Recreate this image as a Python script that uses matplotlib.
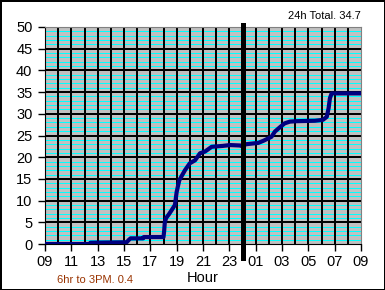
import matplotlib
matplotlib.use('Agg')
import matplotlib.pyplot as plt
import matplotlib.transforms as mtransforms

plt.rcParams['font.family'] = ['Liberation Sans', 'DejaVu Sans']

# hours since 09:00 and cumulative rainfall
hours = [0, 3.4, 3.45, 6.2, 6.35, 6.5, 7.45, 7.5, 9.0, 9.05, 9.1, 9.2, 9.4,
         9.62, 9.87, 10.0, 10.2, 10.63, 11.0, 11.4, 11.77, 12.15, 12.66, 13.5,
         14.05, 14.8, 14.9, 15.3, 16.2, 16.6, 17.2, 17.46, 17.84, 18.2, 18.6,
         19.1, 20.5, 21.1, 21.4, 21.54, 21.64, 21.77, 24]
rain = [0, 0, 0.3, 0.4, 0.9, 1.3, 1.3, 1.6, 1.6, 3.0, 5.0, 6.0, 6.8,
        7.8, 9.0, 12, 14.7, 17, 18.6, 19.3, 20.9, 21.3, 22.4, 22.6,
        22.8, 22.7, 22.6, 23, 23.3, 23.8, 24.7, 25.9, 26.9, 27.8, 28.2,
        28.3, 28.4, 28.6, 29.3, 31.3, 33.6, 34.7, 34.7]

xtick_pos = list(range(0, 25, 2))
xtick_labels = ['09', '11', '13', '15', '17', '19', '21', '23',
                '01', '03', '05', '07', '09']
ytick_pos = list(range(0, 51, 5))
midnight = 15
total_text = '24h Total. 34.7'
partial_text = '6hr to 3PM. 0.4'

fig = plt.figure(figsize=(3.85, 2.9), dpi=100)
fig.patch.set_facecolor('white')
fig.patch.set_edgecolor('black')
fig.patch.set_linewidth(2)

ax = fig.add_axes([45 / 385, 46 / 290, 316 / 385, 217 / 290])
ax.set_facecolor('#c0c0c0')
ax.set_xlim(0, 24)
ax.set_ylim(0, 50)

# grid drawn by hand so the black lines sit over the cyan ones
for v in range(1, 50):
    if v % 5:
        ax.axhline(v, color='cyan', linewidth=0.7, antialiased=False, zorder=1)
for v in ytick_pos[1:-1]:
    ax.axhline(v, color='black', linewidth=1.2, antialiased=False, zorder=2)
for h in range(1, 24):
    ax.axvline(h, color='black', linewidth=1.2, antialiased=False, zorder=2)

ax.set_xticks(xtick_pos)
ax.set_xticklabels(xtick_labels)
ax.set_yticks(ytick_pos)
ax.tick_params(axis='both', length=5, width=1, color='black', labelsize=10.5)
ax.tick_params(axis='x', pad=3)
ax.tick_params(axis='y', pad=4)

for side in ['left', 'bottom']:
    ax.spines[side].set_color('black')
for side in ['top', 'right']:
    ax.spines[side].set_color('#808080')

ax.plot(hours, rain, color='#000080', linewidth=3, solid_joinstyle='round',
        zorder=3)

# midnight marker extends past the plot area
trans = mtransforms.blended_transform_factory(ax.transData, ax.transAxes)
ax.plot([midnight, midnight], [-0.065, 1.01], color='black', linewidth=2.2,
        antialiased=False, transform=trans, clip_on=False, zorder=4)

ax.set_xlabel('Hour', fontsize=10.5, labelpad=1)
fig.text(361 / 385, 1 - 16 / 290, total_text, ha='right', va='center',
         fontsize=8)
fig.text(57 / 385, 1 - 280 / 290, partial_text, ha='left', va='center',
         fontsize=8, color='#993300')

fig.savefig('out.png', dpi=100)
